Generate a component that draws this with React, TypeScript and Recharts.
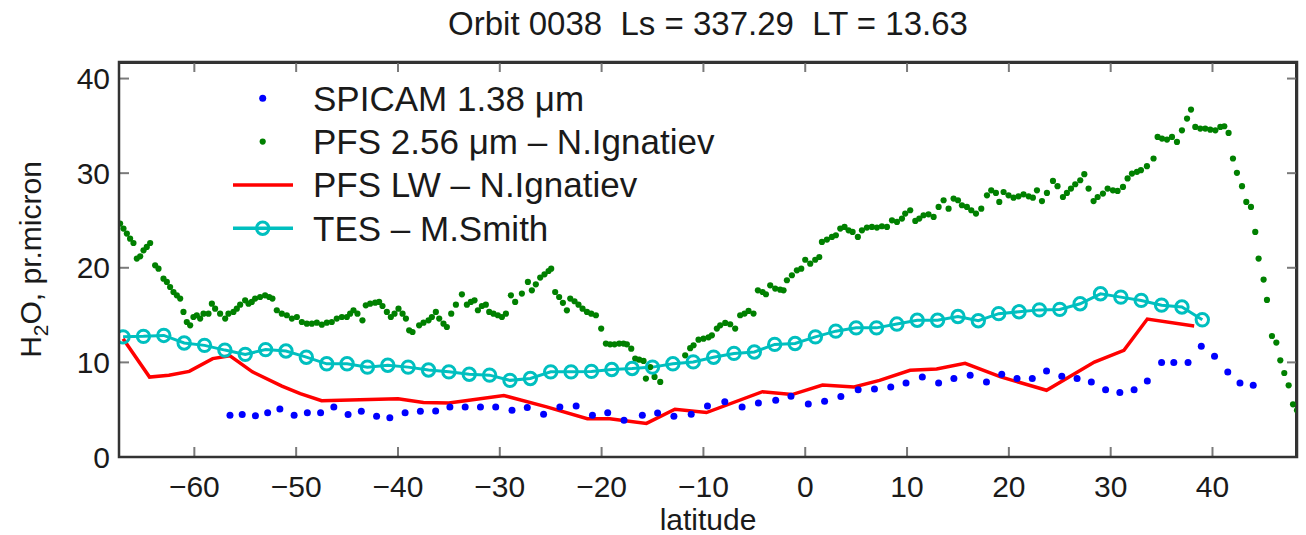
import React from 'react';
import { ComposedChart, XAxis, YAxis, Scatter, Line, Legend, CartesianGrid } from 'recharts';

const TITLE = 'Orbit 0038  Ls = 337.29  LT = 13.63';
const X_LABEL = 'latitude';
const X_TICKS = [-60, -50, -40, -30, -20, -10, 0, 10, 20, 30, 40];
const Y_TICKS = [0, 10, 20, 30, 40];
const X_DOMAIN: [number, number] = [-67.4, 48.3];
const Y_DOMAIN: [number, number] = [0, 41.75];

// SPICAM 1.38 um  [latitude, H2O]
const SPICAM: [number, number][] = [
  [-56.5, 4.41], [-55.3, 4.48], [-54.0, 4.37], [-52.8, 4.69], [-51.6, 5.07], [-50.2, 4.41], [-48.9, 4.69],
  [-47.6, 4.69], [-46.3, 5.29], [-44.9, 4.48], [-43.6, 4.83], [-42.1, 4.3], [-40.8, 4.16], [-39.3, 4.69],
  [-37.8, 4.83], [-36.3, 4.86], [-34.9, 5.29], [-33.4, 5.29], [-31.9, 5.29], [-30.4, 5.29], [-28.8, 4.94],
  [-27.3, 5.22], [-25.7, 4.51], [-24.1, 5.29], [-22.5, 5.39], [-20.9, 4.41], [-19.4, 4.69], [-17.8, 3.88],
  [-16.0, 4.41], [-14.5, 4.65], [-12.9, 4.3], [-11.2, 4.51], [-9.6, 5.39], [-7.9, 5.85], [-6.2, 5.29],
  [-4.6, 5.71], [-2.9, 6.0], [-1.4, 6.42], [0.3, 5.6], [1.9, 5.89], [3.5, 6.4], [5.2, 7.12], [6.8, 7.18],
  [8.4, 7.4], [9.9, 7.82], [11.5, 8.46], [13.1, 7.82], [14.6, 8.29], [16.2, 8.64], [17.8, 7.93], [19.3, 8.74],
  [20.8, 8.29], [22.3, 8.29], [23.7, 9.09], [25.2, 8.53], [26.7, 8.29], [28.1, 7.93], [29.5, 7.12], [30.9, 6.81],
  [32.3, 7.12], [33.6, 8.03], [35.0, 9.98], [36.2, 9.98], [37.6, 9.98], [38.9, 11.7], [40.2, 10.64],
  [41.5, 8.99], [42.7, 7.82], [44.0, 7.58],
];

// PFS 2.56 um - N.Ignatiev
const PFS_SW: [number, number][] = [
  [-67.29, 24.67], [-66.96, 24.14], [-66.63, 23.61], [-66.31, 23.08], [-65.98, 22.62], [-65.65, 20.97],
  [-65.32, 21.21], [-64.99, 21.85], [-64.67, 22.2], [-64.34, 22.62], [-63.85, 20.26], [-63.52, 19.91],
  [-63.03, 18.85], [-62.7, 18.5], [-62.38, 17.97], [-62.05, 17.44], [-61.72, 17.09], [-61.39, 16.74],
  [-61.07, 15.33], [-60.74, 14.27], [-60.41, 13.92], [-60.09, 14.8], [-59.76, 14.98], [-59.43, 14.63],
  [-59.1, 15.15], [-58.61, 15.15], [-58.28, 16.21], [-57.96, 15.68], [-57.47, 15.15], [-56.97, 14.63],
  [-56.65, 15.15], [-56.16, 15.33], [-55.83, 15.68], [-55.5, 16.1], [-55.01, 16.56], [-54.68, 16.21],
  [-54.36, 16.39], [-54.03, 16.74], [-53.54, 16.91], [-53.05, 17.09], [-52.65, 16.91], [-52.33, 16.74],
  [-51.9, 15.51], [-51.41, 15.15], [-50.92, 14.98], [-50.42, 14.63], [-49.93, 14.8], [-49.44, 14.27],
  [-48.95, 14.09], [-48.46, 14.09], [-47.97, 14.2], [-47.48, 13.99], [-46.99, 14.2], [-46.5, 14.27],
  [-46.01, 14.63], [-45.51, 14.8], [-45.02, 14.8], [-44.7, 15.15], [-44.37, 15.51], [-43.98, 15.15],
  [-43.49, 14.45], [-43.16, 16.03], [-42.73, 16.21], [-42.24, 16.31], [-41.85, 16.39], [-41.52, 15.96],
  [-41.09, 15.33], [-40.7, 14.8], [-40.34, 15.15], [-39.95, 15.68], [-39.55, 15.15], [-39.22, 14.63],
  [-38.9, 13.39], [-38.57, 13.21], [-37.92, 13.92], [-37.49, 14.2], [-37.0, 14.45], [-36.67, 14.8],
  [-36.28, 15.33], [-35.95, 14.63], [-35.53, 14.09], [-35.2, 13.74], [-34.77, 15.15], [-34.31, 16.1],
  [-33.72, 17.19], [-33.23, 16.1], [-32.84, 16.39], [-32.48, 16.56], [-32.15, 15.51], [-31.76, 15.96],
  [-31.37, 16.1], [-31.04, 15.33], [-30.62, 15.15], [-30.19, 14.98], [-29.79, 14.8], [-29.4, 15.15],
  [-28.91, 17.09], [-28.49, 16.39], [-27.83, 17.27], [-27.24, 18.5], [-26.85, 17.62], [-26.46, 18.25],
  [-26.03, 18.96], [-25.61, 19.31], [-25.21, 19.66], [-24.95, 19.91], [-24.56, 17.44], [-24.17, 16.91],
  [-23.8, 16.3], [-23.41, 15.5], [-23.08, 16.74], [-22.66, 16.46], [-22.27, 16.1], [-21.87, 15.68],
  [-21.44, 15.33], [-21.02, 15.15], [-20.56, 14.98], [-20.04, 13.57], [-19.58, 11.99], [-19.16, 11.91],
  [-18.73, 11.91], [-18.27, 11.99], [-17.85, 11.99], [-17.52, 11.91], [-17.09, 11.45], [-16.7, 10.4],
  [-16.31, 10.29], [-15.88, 10.15], [-15.65, 8.29], [-15.23, 9.51], [-14.8, 8.46], [-14.24, 7.93],
  [-11.79, 10.75], [-11.3, 11.5], [-10.97, 11.81], [-10.48, 12.4], [-9.99, 12.51], [-9.5, 12.65],
  [-9.17, 12.86], [-8.68, 13.57], [-8.35, 13.92], [-7.86, 14.17], [-7.37, 14.03], [-6.88, 13.57],
  [-6.39, 14.98], [-5.96, 15.16], [-5.57, 15.44], [-5.08, 15.16], [-4.65, 17.62], [-4.19, 17.44],
  [-3.86, 17.2], [-3.44, 18.15], [-2.95, 17.8], [-2.46, 17.69], [-2.13, 17.62], [-1.8, 18.68],
  [-1.31, 19.21], [-0.82, 19.73], [-0.39, 19.91], [0.0, 20.85], [0.49, 20.43], [0.98, 20.85],
  [1.38, 21.14], [1.64, 22.73], [2.13, 22.98], [2.62, 23.26], [3.01, 23.44], [3.44, 24.14], [3.86, 24.32],
  [4.26, 23.96], [4.65, 23.79], [5.17, 23.26], [5.57, 23.96], [6.06, 24.25], [6.55, 24.32], [7.04, 24.25],
  [7.53, 24.39], [8.03, 24.32], [8.52, 25.02], [9.01, 24.85], [9.5, 25.2], [9.82, 25.73], [10.31, 26.08],
  [10.81, 24.95], [11.2, 25.2], [11.62, 25.55], [12.11, 25.65], [12.61, 25.37], [13.1, 26.43],
  [13.59, 27.14], [14.08, 26.25], [14.57, 27.31], [15.0, 27.14], [15.39, 26.61], [15.88, 26.43],
  [16.31, 26.08], [16.77, 25.73], [17.29, 26.25], [17.85, 27.66], [18.27, 28.19], [18.73, 27.91],
  [19.06, 26.96], [19.48, 28.01], [19.97, 27.66], [20.46, 27.41], [20.95, 27.55], [21.44, 27.76],
  [21.94, 27.55], [22.36, 27.41], [22.76, 28.19], [23.25, 27.05], [23.74, 27.91], [24.33, 29.18],
  [24.78, 28.62], [25.31, 27.48], [25.7, 27.91], [26.1, 28.37], [26.52, 28.83], [27.01, 29.25],
  [27.41, 29.89], [27.83, 28.37], [28.32, 27.05], [28.72, 27.48], [29.24, 27.84], [29.7, 28.37],
  [30.22, 28.19], [30.68, 28.12], [31.21, 28.55], [31.66, 29.44], [32.09, 29.96], [32.58, 30.14],
  [32.97, 30.32], [33.56, 30.74], [34.21, 31.55], [34.61, 33.83], [35.04, 33.66], [35.53, 33.55],
  [36.02, 33.83], [36.51, 33.3], [37.0, 34.53], [37.5, 35.77], [37.89, 36.72], [38.31, 34.89],
  [38.8, 34.71], [39.29, 34.71], [39.78, 34.6], [40.28, 34.53], [40.77, 34.89], [41.16, 34.96],
  [41.58, 34.25], [42.01, 31.55], [42.4, 30.04], [42.9, 28.62], [43.32, 26.96], [43.78, 26.43],
  [44.2, 23.79], [44.53, 20.97], [45.02, 18.75], [45.35, 16.6], [45.84, 12.79], [46.27, 12.09],
  [46.66, 10.22], [47.05, 8.88], [47.48, 7.58], [47.91, 5.57], [48.3, 4.93],
];

// PFS LW - N.Ignatiev
const PFS_LW: [number, number][] = [
  [-67.0, 12.5], [-64.4, 8.45], [-62.5, 8.65], [-60.5, 9.05], [-58.2, 10.4], [-56.5, 10.7], [-54.3, 9.0],
  [-51.4, 7.5], [-49.6, 6.7], [-47.5, 5.95], [-40.0, 6.15], [-37.5, 5.75], [-35.0, 5.7], [-29.6, 6.5],
  [-25.4, 5.3], [-21.4, 4.05], [-19.2, 4.05], [-15.6, 3.55], [-12.8, 5.05], [-9.7, 4.7], [-4.2, 6.9],
  [-1.3, 6.6], [1.7, 7.6], [4.8, 7.4], [7.3, 8.1], [10.3, 9.17], [12.9, 9.3], [15.7, 9.9], [19.2, 8.46],
  [23.7, 7.05], [28.4, 10.04], [31.3, 11.28], [33.6, 14.58], [38.2, 13.85],
];

// TES - M.Smith
const TES: [number, number][] = [
  [-67, 12.7], [-65, 12.75], [-63, 12.85], [-61, 12.05], [-59, 11.8], [-57, 11.3], [-55, 10.85],
  [-53, 11.35], [-51, 11.2], [-49, 10.55], [-47, 9.85], [-45, 9.85], [-43, 9.5], [-41, 9.7], [-39, 9.5],
  [-37, 9.2], [-35, 9.0], [-33, 8.75], [-31, 8.65], [-29, 8.1], [-27, 8.3], [-25, 9.0], [-23, 9.0],
  [-21, 9.05], [-19, 9.25], [-17, 9.35], [-15, 9.5], [-13, 9.85], [-11, 10.05], [-9, 10.55], [-7, 10.95],
  [-5, 11.1], [-3, 11.9], [-1, 12.0], [1, 12.7], [3, 13.3], [5, 13.65], [7, 13.65], [9, 14.05],
  [11, 14.45], [13, 14.45], [15, 14.85], [17, 14.4], [19, 15.15], [21, 15.35], [23, 15.55], [25, 15.6],
  [27, 16.2], [29, 17.25], [31, 16.9], [33, 16.55], [35, 16.05], [37, 15.85], [39, 14.5],
];

const BLUE = '#0000ff';
const GREEN = '#008000';
const RED = '#ff0000';
const CYAN = '#00bfbf';
const FRAME = '#333333';
const TICK = '#7a7a7a';
const TEXT = '#1a1a1a';
const FONT = '"Liberation Sans", Arial, Helvetica, sans-serif';

const BLUE_R = 3.5;
const GREEN_R = 3.1;
const TES_R = 6.2;

const LEGEND = [
  { label: 'SPICAM 1.38 μm', kind: 'dot', color: BLUE, r: BLUE_R },
  { label: 'PFS 2.56 μm – N.Ignatiev', kind: 'dot', color: GREEN, r: GREEN_R },
  { label: 'PFS LW – N.Ignatiev', kind: 'line', color: RED, r: 0 },
  { label: 'TES – M.Smith', kind: 'lineCircle', color: CYAN, r: TES_R },
];

const toRows = (arr: [number, number][]) => arr.map(([lat, v]) => ({ lat, v }));

const W = 1306;
const H = 535;
const MARGIN = { top: 62, right: 9, bottom: 0, left: 0 };
const Y_AXIS_W = 119;
const X_AXIS_H = 78;
const PLOT_L = MARGIN.left + Y_AXIS_W;
const PLOT_T = MARGIN.top;
const PLOT_R = W - MARGIN.right;
const PLOT_B = H - MARGIN.bottom - X_AXIS_H;
const TICK_LEN = 10;

const LEG_ROW0 = 98.3;
const LEG_ROW_GAP = 43.3;
const LEG_MARK_X = 262.7;
const LEG_LINE_X1 = 233;
const LEG_LINE_X2 = 293;
const LEG_TEXT_X = 313;

const fmt = (v: number) => (v < 0 ? '\u2212' + Math.abs(v) : String(v));

function YLabel(props: any) {
  const vb = props.viewBox || { x: 0, y: 62, width: 119, height: 395 };
  const x = vb.x + 41;
  const y = vb.y + vb.height / 2;
  return (
    <text
      x={x}
      y={y}
      transform={`rotate(-90, ${x}, ${y})`}
      textAnchor="middle"
      fontSize={30}
      fontFamily={FONT}
      fill={TEXT}
    >
      <tspan>H</tspan>
      <tspan fontSize={21} dy={7}>2</tspan>
      <tspan dy={-7}>O, pr.micron</tspan>
    </text>
  );
}

function XLabel(props: any) {
  const vb = props.viewBox || { x: 119, y: 457, width: 1178, height: 78 };
  return (
    <text
      x={vb.x + vb.width / 2}
      y={vb.y + 73}
      textAnchor="middle"
      fontSize={30}
      fontFamily={FONT}
      fill={TEXT}
    >
      {X_LABEL}
    </text>
  );
}

function Overlay() {
  const [xMin, xMax] = X_DOMAIN;
  const [yMin, yMax] = Y_DOMAIN;
  const sx = (v: number) => PLOT_L + ((v - xMin) / (xMax - xMin)) * (PLOT_R - PLOT_L);
  const sy = (v: number) => PLOT_B - ((v - yMin) / (yMax - yMin)) * (PLOT_B - PLOT_T);
  return (
    <svg width={W} height={H} style={{ display: 'block', overflow: 'visible' }}>
      {X_TICKS.map((t) => (
        <g key={'x' + t}>
          <line x1={sx(t)} x2={sx(t)} y1={PLOT_B} y2={PLOT_B - TICK_LEN} stroke={TICK} strokeWidth={2} />
          <line x1={sx(t)} x2={sx(t)} y1={PLOT_T} y2={PLOT_T + TICK_LEN} stroke={TICK} strokeWidth={2} />
        </g>
      ))}
      {Y_TICKS.map((t) => (
        <g key={'y' + t}>
          <line x1={PLOT_L} x2={PLOT_L + TICK_LEN} y1={sy(t)} y2={sy(t)} stroke={TICK} strokeWidth={2} />
          <line x1={PLOT_R} x2={PLOT_R - TICK_LEN} y1={sy(t)} y2={sy(t)} stroke={TICK} strokeWidth={2} />
        </g>
      ))}
      <rect
        x={PLOT_L}
        y={PLOT_T}
        width={PLOT_R - PLOT_L}
        height={PLOT_B - PLOT_T}
        fill="none"
        stroke={FRAME}
        strokeWidth={2.5}
      />
      {LEGEND.map((it, i) => {
        const y = LEG_ROW0 + i * LEG_ROW_GAP;
        return (
          <g key={i}>
            {it.kind === 'dot' && <circle cx={LEG_MARK_X} cy={y} r={it.r} fill={it.color} />}
            {it.kind !== 'dot' && (
              <line x1={LEG_LINE_X1} x2={LEG_LINE_X2} y1={y} y2={y} stroke={it.color} strokeWidth={3.5} />
            )}
            {it.kind === 'lineCircle' && (
              <circle cx={LEG_MARK_X} cy={y} r={it.r} fill="none" stroke={it.color} strokeWidth={3} />
            )}
            <text x={LEG_TEXT_X} y={y + 12.5} fontSize={35} fontFamily={FONT} fill={TEXT}>
              {it.label}
            </text>
          </g>
        );
      })}
    </svg>
  );
}

const dotShape = (color: string, r: number) => (p: any) =>
  p.cx == null ? <g /> : <circle cx={p.cx} cy={p.cy} r={r} fill={color} />;

export default function App() {
  return (
    <div style={{ position: 'relative', width: W, height: H, background: '#fff' }}>
      <style>{`body{margin:0;background:#fff;}`}</style>
      <div
        style={{
          position: 'absolute',
          left: PLOT_L,
          width: PLOT_R - PLOT_L,
          top: 7,
          textAlign: 'center',
          fontSize: 33,
          lineHeight: '33px',
          fontFamily: FONT,
          color: TEXT,
          whiteSpace: 'pre',
          zIndex: 2,
        }}
      >
        {TITLE}
      </div>
      <ComposedChart width={W} height={H} margin={MARGIN}>
        <CartesianGrid
          horizontal={true}
          vertical={true}
          horizontalPoints={[PLOT_T + 1]}
          verticalPoints={[PLOT_R - 1]}
          stroke={FRAME}
          strokeWidth={2}
          fill="none"
        />
        <XAxis
          xAxisId={0}
          dataKey="lat"
          type="number"
          domain={X_DOMAIN}
          allowDataOverflow
          ticks={X_TICKS}
          interval={0}
          height={X_AXIS_H}
          tickSize={0}
          tickMargin={19}
          tickFormatter={fmt}
          tick={{ fontSize: 30, fontFamily: FONT, fill: TEXT }}
          axisLine={{ stroke: FRAME, strokeWidth: 2 }}
          tickLine={false}
          label={<XLabel />}
        />
        <YAxis
          yAxisId={0}
          dataKey="v"
          type="number"
          domain={Y_DOMAIN}
          allowDataOverflow
          ticks={Y_TICKS}
          interval={0}
          width={Y_AXIS_W}
          tickSize={0}
          tickMargin={9}
          tick={{ fontSize: 30, fontFamily: FONT, fill: TEXT }}
          axisLine={{ stroke: FRAME, strokeWidth: 2 }}
          tickLine={false}
          label={<YLabel />}
        />
        <Scatter
          name="SPICAM 1.38 μm"
          data={toRows(SPICAM)}
          dataKey="v"
          xAxisId={0}
          yAxisId={0}
          shape={dotShape(BLUE, BLUE_R)}
          isAnimationActive={false}
        />
        <Scatter
          name="PFS 2.56 μm – N.Ignatiev"
          data={toRows(PFS_SW)}
          dataKey="v"
          xAxisId={0}
          yAxisId={0}
          shape={dotShape(GREEN, GREEN_R)}
          isAnimationActive={false}
        />
        <Line
          name="PFS LW – N.Ignatiev"
          data={toRows(PFS_LW)}
          dataKey="v"
          xAxisId={0}
          yAxisId={0}
          type="linear"
          stroke={RED}
          strokeWidth={3.5}
          dot={false}
          activeDot={false}
          isAnimationActive={false}
        />
        <Line
          name="TES – M.Smith"
          data={toRows(TES)}
          dataKey="v"
          xAxisId={0}
          yAxisId={0}
          type="linear"
          stroke={CYAN}
          strokeWidth={3}
          dot={{ r: TES_R, stroke: CYAN, strokeWidth: 3, fill: 'none' }}
          activeDot={false}
          isAnimationActive={false}
        />
        <Legend
          layout="horizontal"
          verticalAlign="middle"
          align="center"
          content={() => <Overlay />}
          wrapperStyle={{
            position: 'absolute',
            left: 0,
            top: 0,
            width: W,
            height: H,
            margin: 0,
            padding: 0,
            pointerEvents: 'none',
          }}
        />
      </ComposedChart>
    </div>
  );
}
